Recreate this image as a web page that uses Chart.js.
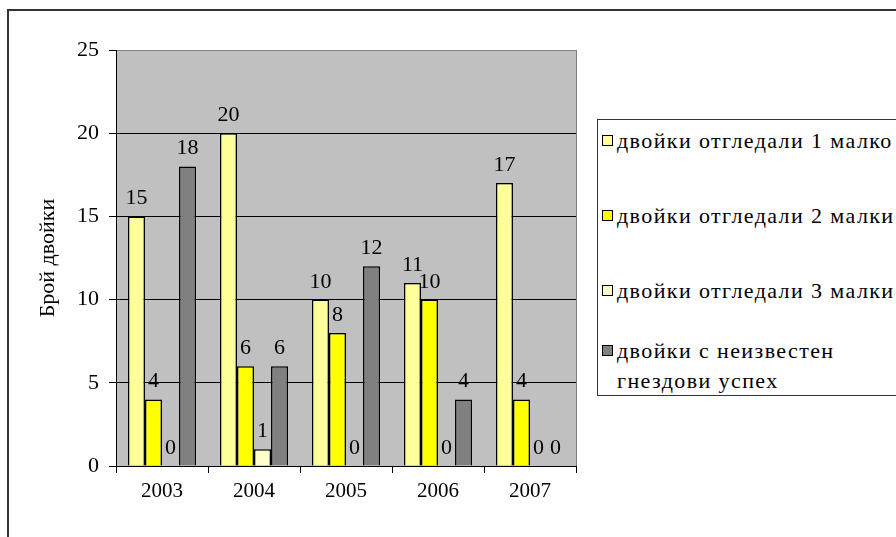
<!DOCTYPE html>
<html lang="bg">
<head>
<meta charset="utf-8">
<title>Брой двойки</title>
<script src="https://cdn.jsdelivr.net/npm/chart.js@4.4.1/dist/chart.umd.min.js"></script>
<style>
  html, body {
    margin: 0;
    padding: 0;
    width: 896px;
    height: 537px;
    overflow: hidden;
    background: #fff;
    font-family: "Liberation Serif", "Times New Roman", "Liberation Sans", serif;
  }
  #wrap {
    position: relative;
    width: 896px;
    height: 537px;
    overflow: hidden;
  }
  #frame {
    position: absolute;
    left: 7px;
    top: 9px;
    width: 1000px;
    height: 600px;
    border-left: 2px solid #333;
    border-top: 2px solid #333;
    pointer-events: none;
  }
  canvas {
    position: absolute;
    left: 0;
    top: 0;
  }
  #legenda {
    position: absolute;
    left: 597px;
    top: 119px;
    width: 420px;
    height: 277px;
    border: 1px solid #333;
    background: #fff;
    box-sizing: border-box;
  }
  .item {
    position: absolute;
    left: 4px;
    font-size: 22px;
    line-height: 30px;
    letter-spacing: 1.4px;
    color: #000;
    white-space: nowrap;
  }
  .item .box {
    position: absolute;
    left: 0;
    top: 9px;
    width: 9px;
    height: 9px;
    border: 1.5px solid #000;
  }
  .item .txt {
    display: block;
    margin-left: 15px;
  }
</style>
</head>
<body>
<div id="wrap">
  <div id="frame"></div>
  <canvas id="grafik" width="896" height="537"></canvas>
  <div id="legenda"></div>
</div>
<script>
// ==================== ДАННИ ====================
const godini = ["2003", "2004", "2005", "2006", "2007"];
const ednoMalko = [15, 20, 10, 11, 17];
const dveMalki = [4, 6, 8, 10, 4];
const triMalki = [0, 1, 0, 0, 0];
const neizvesten = [18, 6, 12, 4, 0];
const yTikove = [0, 5, 10, 15, 20, 25];

const serii = [
  { label: "двойки отгледали 1 малко", data: ednoMalko, cvqt: "#FFFF99" },
  { label: "двойки отгледали 2 малки", data: dveMalki, cvqt: "#FFFF00" },
  { label: "двойки отгледали 3 малки", data: triMalki, cvqt: "#FFFFCC" },
  { label: ["двойки с неизвестен", "гнездови успех"], data: neizvesten, cvqt: "#808080" },
];

const SHRIFT = "'Liberation Serif', 'Times New Roman', 'Liberation Sans', serif";

// ==================== ПЛЪГИНИ ====================
// сив фон на графичната област
const fonPlugin = {
  id: "fon",
  beforeDraw(chart) {
    const { ctx, chartArea: a } = chart;
    ctx.save();
    ctx.fillStyle = "#C0C0C0";
    ctx.fillRect(a.left, a.top, a.right - a.left, a.bottom - a.top);
    ctx.restore();
  },
  beforeDatasetsDraw(chart) {
    const { ctx, chartArea: a } = chart;
    ctx.save();
    ctx.strokeStyle = "#808080";
    ctx.lineWidth = 1;
    ctx.beginPath();
    ctx.moveTo(a.right + 0.5, a.top);
    ctx.lineTo(a.right + 0.5, a.bottom);
    ctx.stroke();
    ctx.restore();
  },
};

// стойности над колоните
const etiketiPlugin = {
  id: "etiketi",
  afterDatasetsDraw(chart) {
    const { ctx } = chart;
    ctx.save();
    ctx.fillStyle = "#000";
    ctx.font = "22px " + SHRIFT;
    ctx.textAlign = "center";
    ctx.textBaseline = "alphabetic";
    chart.data.datasets.forEach((ds, i) => {
      chart.getDatasetMeta(i).data.forEach((bar, j) => {
        ctx.fillText(String(ds.data[j]), bar.x, bar.y - 12);
      });
    });
    ctx.restore();
  },
};

// ==================== ГРАФИКА ====================
new Chart(document.getElementById("grafik"), {
  type: "bar",
  data: {
    labels: godini,
    datasets: serii.map((s) => ({
      label: s.label,
      data: s.data,
      backgroundColor: s.cvqt,
      borderColor: "#000",
      borderWidth: 1.5,
      barPercentage: 1,
      categoryPercentage: 0.74,
    })),
  },
  options: {
    responsive: false,
    animation: false,
    layout: { padding: { left: 0, top: 50, right: 320, bottom: 0 } },
    plugins: {
      legend: { display: false },
      tooltip: { enabled: false },
    },
    scales: {
      x: {
        afterFit(scale) { scale.height = 71; },
        border: { color: "#000", width: 1 },
        grid: {
          offset: true,
          drawOnChartArea: false,
          tickLength: 7,
          tickColor: "#000",
        },
        ticks: {
          color: "#000",
          padding: 6,
          font: { family: SHRIFT, size: 21 },
        },
      },
      y: {
        min: 0,
        max: 25,
        afterFit(scale) { scale.width = 116; },
        afterBuildTicks(scale) {
          scale.ticks = yTikove.map((v) => ({ value: v }));
        },
        border: { color: "#000", width: 1 },
        grid: {
          color: (c) => (c.tick && c.tick.value === 25 ? "#808080" : "#000"),
          lineWidth: 1,
          tickLength: 7,
          tickColor: "#000",
        },
        ticks: {
          color: "#000",
          padding: 10,
          font: { family: SHRIFT, size: 22 },
        },
        title: {
          display: true,
          text: "Брой двойки",
          color: "#000",
          padding: { top: 35, bottom: 0 },
          font: { family: SHRIFT, size: 22 },
        },
      },
    },
  },
  plugins: [fonPlugin, etiketiPlugin],
});

// ==================== ЛЕГЕНДА ====================
const legenda = document.getElementById("legenda");
const vrhove = [6, 81, 156, 216];
serii.forEach((s, i) => {
  const red = document.createElement("div");
  red.className = "item";
  red.style.top = vrhove[i] + "px";
  const box = document.createElement("span");
  box.className = "box";
  box.style.background = s.cvqt;
  const txt = document.createElement("span");
  txt.className = "txt";
  txt.innerHTML = [].concat(s.label).join("<br>");
  red.appendChild(box);
  red.appendChild(txt);
  legenda.appendChild(red);
});
</script>
</body>
</html>
